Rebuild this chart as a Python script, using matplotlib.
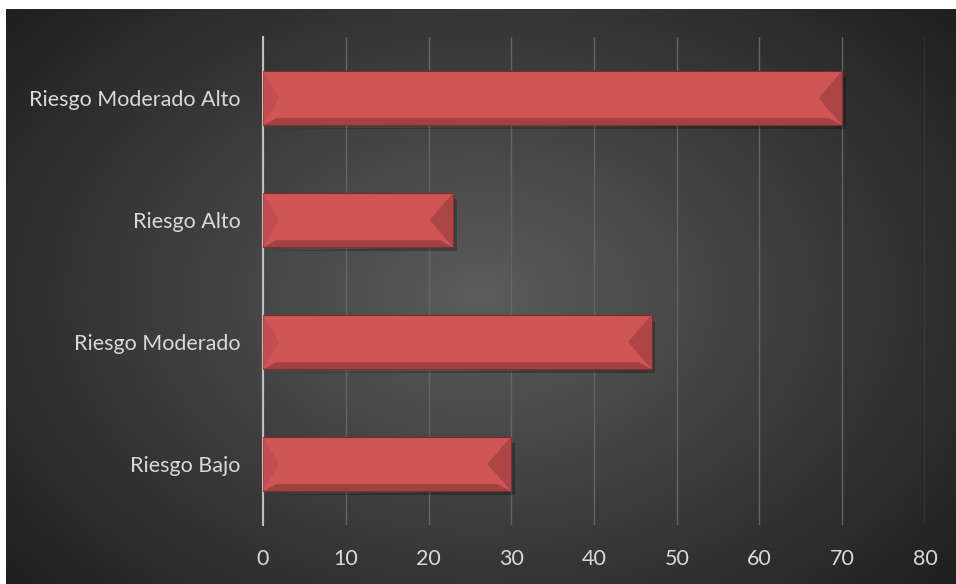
import numpy as np
import matplotlib
matplotlib.use("Agg")
import matplotlib.pyplot as plt
from matplotlib.patches import Polygon

# datos del grafico
categorias = ["Riesgo Bajo", "Riesgo Moderado", "Riesgo Alto", "Riesgo Moderado Alto"]
valores = [30, 47, 23, 70]
ticks_x = [0, 10, 20, 30, 40, 50, 60, 70, 80]

W, H = 956, 584
fig = plt.figure(figsize=(W / 100, H / 100), dpi=100)
fig.patch.set_facecolor("white")

# fondo oscuro con degradado radial
bg = fig.add_axes([6 / W, 0, 1 - 6 / W, 1 - 9 / H])
bg.set_axis_off()
yy, xx = np.mgrid[-1:1:300j, -1:1:500j]
r = np.sqrt((xx / 1.1) ** 2 + (yy / 1.3) ** 2)
g = 0.36 - 0.20 * np.clip(r, 0, 1.2)
img = np.dstack([g, g, g])
bg.imshow(img, aspect="auto", extent=[0, 1, 0, 1], interpolation="bilinear")

# area del grafico
left, right = 263 / W, 925 / W
top, bottom = 37 / H, 525 / H
ax = fig.add_axes([left, 1 - bottom, right - left, bottom - top])
ax.patch.set_alpha(0)

y = np.arange(len(categorias))
alto = 0.45
color_barra = "#d05656"
ax.barh(y, valores, height=alto, color=color_barra, edgecolor="#7a2a2a",
        linewidth=0.8, zorder=3)

# efecto bisel en los extremos de cada barra
bis = 1.6
for yi, v in zip(y, valores):
    y0, y1 = yi - alto / 2, yi + alto / 2
    # borde inferior oscuro
    ax.add_patch(Polygon([(0, y0), (v, y0), (v - bis, y0 + 0.06), (bis, y0 + 0.06)],
                         closed=True, color="#8e3a3a", alpha=0.7, lw=0, zorder=4))
    # extremo derecho oscuro
    ax.add_patch(Polygon([(v, y0), (v, y1), (v - bis * 1.8, yi), ],
                         closed=True, color="#a84444", alpha=0.9, lw=0, zorder=4))
    # extremo izquierdo
    ax.add_patch(Polygon([(0, y0), (0, y1), (bis * 1.2, yi)],
                         closed=True, color="#c04c4c", alpha=0.8, lw=0, zorder=4))
    # sombra
    ax.add_patch(Polygon([(0.3, y0 - 0.03), (v + 0.4, y0 - 0.03), (v + 0.4, y1 - 0.05), (v, y1 - 0.05), (v, y0)],
                         closed=True, color="black", alpha=0.25, lw=0, zorder=2))

ax.set_xlim(0, 80)
ax.set_ylim(-0.5, len(categorias) - 0.5)
ax.set_xticks(ticks_x)
ax.set_yticks(y)
ax.set_yticklabels(categorias)
ax.xaxis.grid(True, color="#646464", linewidth=1, zorder=0)
ax.set_axisbelow(True)
for s in ["top", "right", "bottom"]:
    ax.spines[s].set_visible(False)
ax.spines["left"].set_color("#bfbfbf")
ax.spines["left"].set_linewidth(1.5)
ax.tick_params(axis="both", length=0, colors="#d9d9d9", labelsize=15.5)
ax.tick_params(axis="x", pad=17)
ax.tick_params(axis="y", pad=16)
for lab in ax.get_xticklabels() + ax.get_yticklabels():
    lab.set_family(["Lato", "DejaVu Sans"])

fig.savefig("out.png", dpi=100)
